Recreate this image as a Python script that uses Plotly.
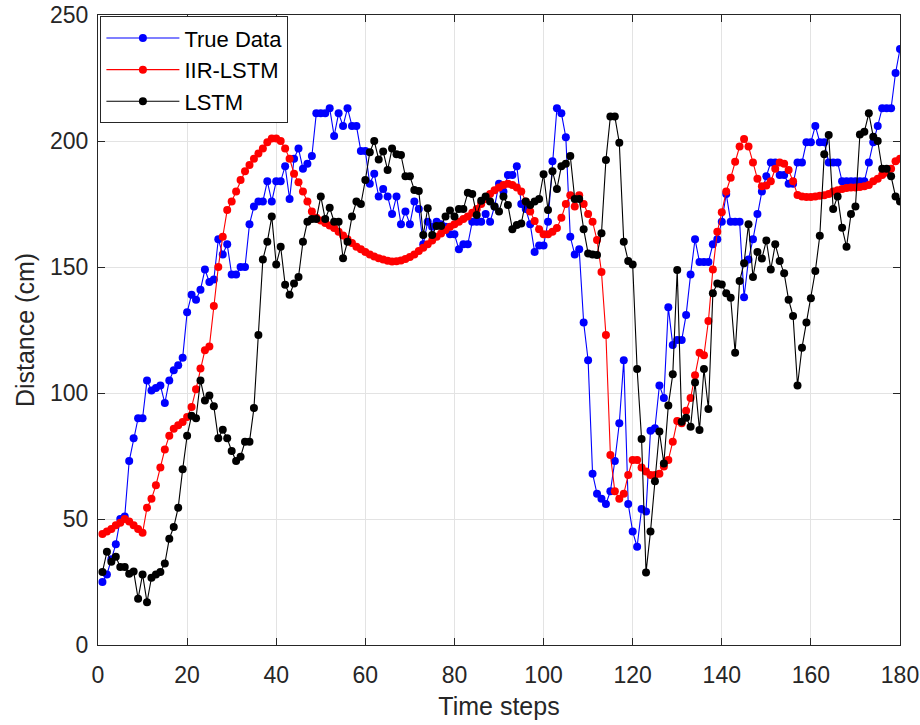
import plotly.graph_objects as go

steps = list(range(1, 181))

true_data = [
    25, 28, 34, 40, 50, 51, 73, 82, 90, 90,
    105, 101, 102, 103, 96, 105, 109, 111, 114, 132,
    139, 137, 141, 149, 144, 145, 161, 155, 159, 147,
    147, 150, 150, 167, 174, 176, 176, 184, 176, 184,
    184, 190, 177, 193, 197, 189, 191, 194, 211, 211,
    211, 213, 202, 211, 206, 213, 206, 206, 196, 196,
    183, 187, 178, 181, 178, 171, 178, 167, 172, 167,
    176, 173, 159, 168, 166, 168, 167, 166, 163, 163,
    157, 159, 159, 168, 168, 168, 171, 168, 174, 183,
    180, 186.5, 186.5, 190, 175, 173, 167, 156, 158.5, 158.5,
    168, 192, 213, 211, 201.5, 162, 155, 157, 128, 113,
    68, 60, 58, 56, 61, 73, 88, 113, 56, 45,
    39, 54, 53, 85, 86, 103, 98, 134, 119, 121,
    121, 131, 147, 161, 152, 152, 152, 159, 161, 168,
    179, 168, 168, 168, 138, 153, 161, 171, 180, 186,
    191.5, 191.5, 186.5, 186.5, 183, 183, 191.5, 191.5, 199.5, 199.5,
    206, 199.5, 199.5, 191.5, 191.5, 191.5, 184, 184, 184, 184,
    184, 184, 191.5, 199.5, 206, 213, 213, 213, 227, 236.5,
]

iir_lstm = [
    44, 45, 46, 47.5, 48.5, 50, 49, 47.5, 46, 44.5,
    54.5, 58, 63.4, 70.4, 77.6, 83, 85.8, 87.2, 88.5, 90.5,
    94.4, 101.5, 109.7, 117, 118.5, 134.5, 150, 162, 172.6, 176,
    180, 184.5, 188, 190.5, 193, 195, 197, 199.5, 201, 201,
    200, 197, 193, 187, 183.6, 180, 176, 172, 169.5, 168.5,
    167.5, 166.5, 165.5, 164, 162.5, 161, 159.5, 158, 157, 156,
    155, 154.2, 153.5, 153, 152.5, 152.2, 152.3, 152.6, 153.2, 154,
    155, 156.3, 157.6, 159, 160.5, 162, 163.3, 164.7, 166, 167,
    168, 169, 170, 171.5, 173, 175, 177, 179, 180.5, 181.5,
    182.5, 183, 182.5, 181.5, 180, 176, 172, 168.3, 165, 163,
    163, 164, 165.5, 169.5, 175, 178.5, 174, 178.5, 175, 171,
    168, 160.7, 148, 123, 75.4, 61, 58, 60, 67.5, 73.4,
    73.4, 70.4, 68.8, 67.5, 67.5, 68, 70.8, 73.4, 80.7, 88.9,
    88, 93, 98, 107, 116, 115, 128.6, 149, 164, 171.7,
    180, 185.4, 191.8, 197.8, 200.8, 197.8, 191.5, 185, 182, 182.3,
    184, 189, 191.5, 191, 188.5, 184, 178.6, 178, 177.8, 177.8,
    178, 178.3, 178.5, 179, 180, 180.5, 181, 181.3, 181.5, 181.5,
    181.7, 182, 182.5, 184, 185, 186.5, 187.5, 189, 192, 193,
]

lstm = [
    29, 37, 33, 35, 31, 31, 28.3, 29.2, 18.4, 28,
    17, 26.7, 28, 29, 32.3, 42.2, 46.8, 54.5, 69.7, 83,
    91, 90, 105, 97, 99, 94.7, 82, 85.4, 82, 77,
    73, 74.7, 80.7, 80.7, 94, 123, 153, 160, 170, 151,
    158, 143, 139, 143.5, 146, 160, 168, 169, 169, 178,
    169, 173.5, 168, 168, 153.5, 160, 170, 176, 175, 184.5,
    195.5, 200, 192.7, 195.8, 188.5, 197, 194.7, 194.4, 186, 186,
    180.6, 180.2, 162.7, 173.3, 162.7, 166.3, 166.3, 170, 172.4, 170,
    173, 173, 179.5, 179, 170.6, 176.3, 178, 176, 174, 172,
    178, 174.6, 165, 166.7, 167.3, 176, 174.6, 176, 177, 186.8,
    172.6, 188, 181, 190, 191, 194, 177, 177, 165, 155.4,
    155, 154.8, 163.4, 192.5, 209.7, 209.7, 199.3, 160, 152.4, 151,
    109.5, 81.7, 28.8, 45, 65, 84.7, 72, 95, 107.4, 148.8,
    88.6, 90.2, 86.6, 104.2, 85.3, 109.5, 93.7, 139.6, 143.5, 143.1,
    139.6, 137.8, 116, 144.4, 151.5, 167, 146, 156, 153.4, 160.5,
    149, 159, 152.4, 147.5, 137, 130.6, 103, 118, 128, 137.6,
    148.4, 162.4, 194.7, 202.4, 173, 178, 165.6, 158, 171, 174,
    202.6, 203.7, 211, 201.7, 200, 189, 189, 186, 178, 176,
]

series_names = ["True Data", "IIR-LSTM", "LSTM"]
series_colors = ["#0000ff", "#ff0000", "#000000"]
series_values = [true_data, iir_lstm, lstm]

x_ticks = [0, 20, 40, 60, 80, 100, 120, 140, 160, 180]
y_ticks = [0, 50, 100, 150, 200, 250]

FONT = "Arial, 'Liberation Sans', Helvetica, sans-serif"
AX = "#262626"

fig = go.Figure()
for name, color, vals in zip(series_names, series_colors, series_values):
    fig.add_trace(go.Scatter(
        x=steps, y=vals, name=name, mode="lines+markers",
        line=dict(color=color, width=1.1),
        marker=dict(color=color, size=8),
    ))

axis_common = dict(
    showgrid=True, gridcolor="#e3e3e3", gridwidth=1,
    showline=True, linecolor=AX, linewidth=1, mirror="ticks",
    ticks="inside", ticklen=7, tickcolor=AX, tickwidth=1,
    zeroline=False,
    tickfont=dict(family=FONT, size=23, color=AX),
)

fig.update_layout(
    width=920, height=725,
    margin=dict(l=98, r=20, t=15, b=80),
    paper_bgcolor="white", plot_bgcolor="white",
    font=dict(family=FONT, color=AX),
    xaxis=dict(range=[0, 180], tickvals=x_ticks, ticklabelstandoff=9,
               title=dict(text="Time steps", font=dict(family=FONT, size=25, color=AX), standoff=10),
               automargin=False, **axis_common),
    yaxis=dict(range=[0, 250], tickvals=y_ticks, ticklabelstandoff=4,
               title=dict(text="Distance (cm)", font=dict(family=FONT, size=25, color=AX), standoff=8),
               automargin=False, **axis_common),
    legend=dict(
        x=0.003, y=0.998, xanchor="left", yanchor="top",
        bgcolor="white", bordercolor=AX, borderwidth=1,
        font=dict(family=FONT, size=22, color="#000000"),
        itemwidth=73, tracegroupgap=0,
    ),
    showlegend=True,
)

# Remove the default 8px page margin so the 920x725 figure fills the window exactly.
fig.write_html(
    "out.html",
    config={"displayModeBar": False},
    post_script="document.body.style.margin='0';document.body.style.overflow='hidden';",
)
